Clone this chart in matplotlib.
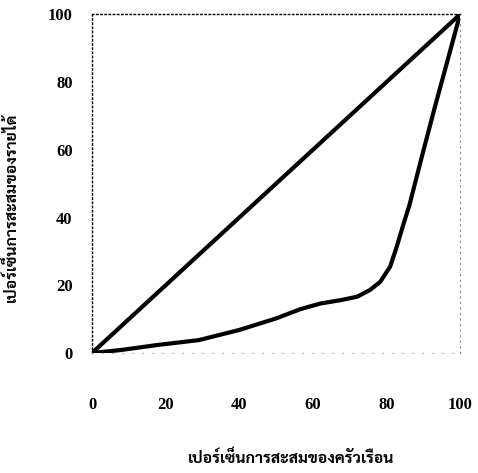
import matplotlib
matplotlib.use("Agg")
import matplotlib.pyplot as plt

# cumulative share of households vs cumulative share of income (%)
households = [0, 8, 18, 29, 40, 50, 56.5, 62, 67.5, 72, 75.5, 78.3, 81,
              82.8, 84.6, 86.2, 89.5, 93, 96.5, 100]
income = [0, 0.9, 2.4, 3.8, 6.8, 10.2, 12.9, 14.6, 15.6, 16.6, 18.6, 21, 25.5,
          31.4, 38, 43.5, 57.5, 72, 86, 100]
equality = [0, 100]
ticks = [0, 20, 40, 60, 80, 100]
xlabel = "เปอร์เซ็นการสะสมของครัวเรือน"
ylabel = "เปอร์เซ็นการสะสมของรายได้"

thai = ["Sarabun", "Taviraj", "Chakra Petch", "DejaVu Sans"]
num_font = {"family": "Liberation Serif", "weight": "bold", "size": 12}

fig = plt.figure(figsize=(4.78, 4.73), dpi=100)
ax = fig.add_axes([0.1925, 0.2537, 0.77, 0.716])

ax.plot(equality, equality, color="black", lw=3, solid_capstyle="round")
ax.plot(households, income, color="black", lw=3, solid_capstyle="round",
        solid_joinstyle="round")

ax.set_xlim(0, 100)
ax.set_ylim(0, 100)
ax.set_xticks(ticks)
ax.set_yticks(ticks)
ax.set_xticklabels([str(t) for t in ticks], fontdict=num_font)
ax.set_yticklabels([str(t) for t in ticks], fontdict=num_font)
ax.tick_params(axis="x", length=0, pad=32)
ax.tick_params(axis="y", length=0, pad=14)

for side in ["top", "left"]:
    ax.spines[side].set_linestyle((0, (1, 2)))
    ax.spines[side].set_linewidth(1)
ax.spines["right"].set_linestyle((0, (1, 4)))
ax.spines["right"].set_color("#888888")
ax.spines["right"].set_linewidth(0.8)
ax.spines["bottom"].set_linestyle((0, (1, 8)))
ax.spines["bottom"].set_color("#bbbbbb")
ax.spines["bottom"].set_linewidth(0.8)

ax.set_xlabel(xlabel, family=thai, weight="bold", fontsize=11.3)
ax.set_ylabel(ylabel, family=thai, weight="bold", fontsize=11.3)
ax.xaxis.set_label_coords(0.54, -0.285)
ax.yaxis.set_label_coords(-0.2, 0.43)

fig.savefig("out.png", dpi=100)
